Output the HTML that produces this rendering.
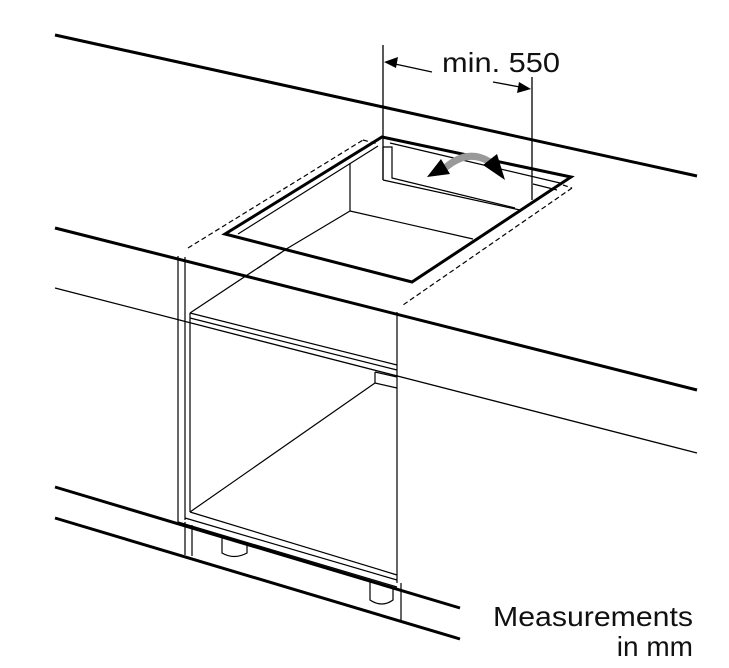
<!DOCTYPE html>
<html><head><meta charset="utf-8"><style>
html,body{margin:0;padding:0;background:#fff;}
svg{display:block;}
text{font-family:"Liberation Sans",sans-serif;fill:#111;}
</style></head><body>
<svg width="729" height="668" viewBox="0 0 729 668" xmlns="http://www.w3.org/2000/svg">
<g stroke="#000" fill="none" stroke-linecap="butt">
<line x1="55" y1="35" x2="697" y2="176" stroke-width="3"/>
<line x1="55" y1="228" x2="697" y2="390" stroke-width="3"/>
<line x1="55" y1="288" x2="697" y2="453" stroke-width="1.3"/>
<line x1="55" y1="487" x2="460" y2="608" stroke-width="3"/>
<line x1="55" y1="518" x2="460" y2="639" stroke-width="3"/>
<polygon points="382,137 571,177 412,282 225,234" stroke-width="3" stroke-linejoin="miter"/>
<g stroke-width="1.2">
<line x1="238" y1="234" x2="378" y2="146"/>
<line x1="390" y1="143" x2="560" y2="183"/>
<polyline points="383,147 392,147 392,178 515,208"/>
<line x1="383" y1="147" x2="383" y2="180"/>
<line x1="383" y1="180" x2="520" y2="210"/>
<line x1="350" y1="163" x2="350" y2="211"/>
<line x1="350" y1="211" x2="473" y2="239"/>
<line x1="350" y1="211" x2="288" y2="248"/>
<line x1="533" y1="184" x2="557" y2="190"/>
<line x1="553" y1="188" x2="520" y2="210"/>
</g>
<g stroke-width="1.2" stroke-dasharray="5,3">
<line x1="188" y1="248" x2="363" y2="140"/>
<line x1="363" y1="140" x2="378" y2="144"/>
<line x1="572" y1="188" x2="403" y2="305"/>
<line x1="563" y1="185" x2="572" y2="188"/>
<line x1="288" y1="248" x2="255" y2="270"/>
</g>
<g stroke-width="1.3">
<line x1="383" y1="45" x2="383" y2="180"/>
<line x1="532" y1="77" x2="532" y2="200"/>
<line x1="395" y1="64" x2="432" y2="72"/>
<line x1="493" y1="82" x2="520" y2="87"/>
</g>
</g>
<polygon points="384,62 398,57 396,68" fill="#000"/>
<polygon points="531,89 517,93 519,82" fill="#000"/>
<text x="442" y="72" font-size="28" textLength="118" lengthAdjust="spacingAndGlyphs">min. 550</text>
<path d="M445,168 Q468,148 490,162" stroke="#999" stroke-width="7" fill="none"/>
<polygon points="427,177 441,159 450,174" fill="#000"/>
<polygon points="505,180 483,165 497,154" fill="#000"/>
<g stroke="#000" fill="none" stroke-width="1.2">
<line x1="178" y1="256" x2="178" y2="522"/>
<line x1="185" y1="257" x2="185" y2="520"/>
<line x1="190" y1="313" x2="190" y2="512"/>
<line x1="397" y1="312" x2="397" y2="583"/>
<line x1="401" y1="583" x2="401" y2="622"/>
<line x1="288" y1="248" x2="190" y2="313"/>
<line x1="190" y1="313" x2="397" y2="365"/>
<line x1="190" y1="318" x2="397" y2="370"/>
<line x1="375" y1="372" x2="375" y2="383"/>
<line x1="375" y1="372" x2="397" y2="377"/>
<line x1="375" y1="383" x2="397" y2="388"/>
<line x1="375" y1="383" x2="190" y2="512"/>
<line x1="190" y1="512" x2="397" y2="575"/>
<line x1="185" y1="518" x2="397" y2="580"/>
<line x1="178" y1="522" x2="397" y2="587"/>
<line x1="185" y1="522" x2="185" y2="555"/>
<line x1="192" y1="525" x2="192" y2="556"/>
<path d="M222,537 V553 Q234,560 247,553 V544"/>
<path d="M370,582 V600 Q382,608 393,600 V588"/>
</g>
<text x="693" y="626" font-size="28" text-anchor="end" textLength="200" lengthAdjust="spacingAndGlyphs">Measurements</text>
<text x="693" y="656" font-size="28" text-anchor="end">in mm</text>
</svg>
</body></html>
